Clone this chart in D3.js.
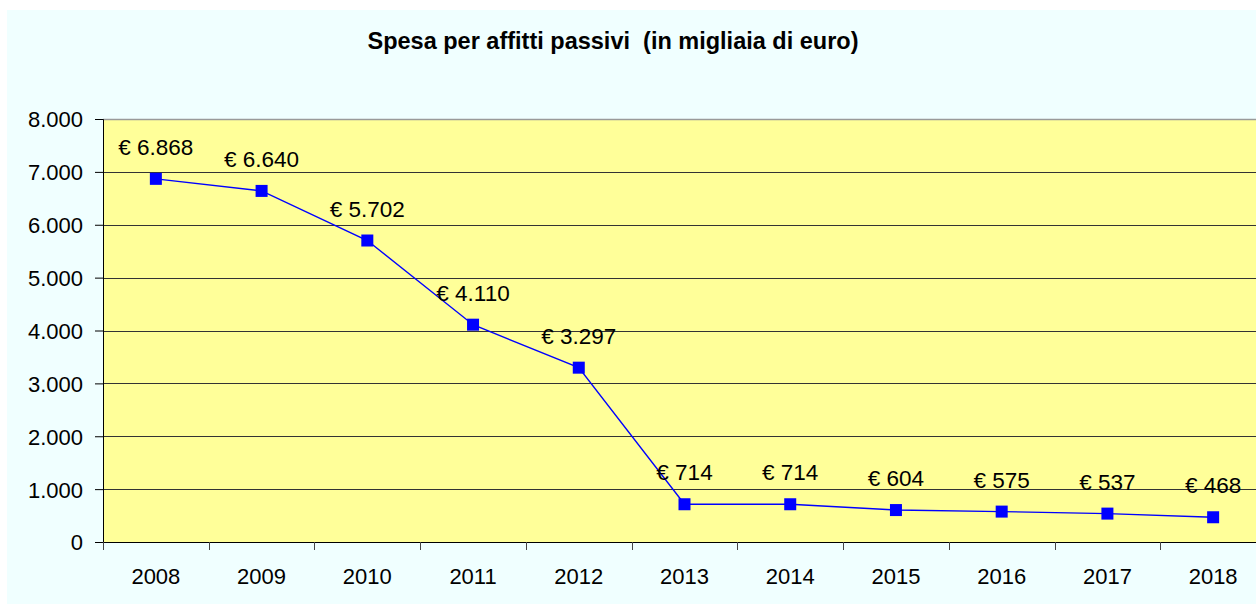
<!DOCTYPE html>
<html>
<head>
<meta charset="utf-8">
<title>Spesa per affitti passivi</title>
<script src="https://cdn.jsdelivr.net/npm/d3@7"></script>
<style>
  body { margin: 0; background: #fff; }
  svg { display: block; font-family: "Liberation Sans", Arial, sans-serif; }
  .tick text { font-size: 22px; fill: #000; }
  .lbl { font-size: 22.5px; fill: #000; }
  .titolo { font-size: 23.5px; font-weight: bold; white-space: pre; }
</style>
</head>
<body>
<svg id="chart" width="1256" height="604"></svg>
<script>
// dati
var anni = ["2008","2009","2010","2011","2012","2013","2014","2015","2016","2017","2018"];
var spesa = [6868, 6640, 5702, 4110, 3297, 714, 714, 604, 575, 537, 468];
var yTicks = [0, 1000, 2000, 3000, 4000, 5000, 6000, 7000, 8000];

var svg = d3.select("#chart");
var mLeft = 103, mTop = 119, plotW = 1163, plotH = 423;

// sfondo
svg.append("rect").attr("x", 7).attr("y", 10).attr("width", 1260).attr("height", 600)
  .attr("fill", "#f0ffff");

svg.append("text")
  .attr("class", "titolo")
  .attr("x", 613).attr("y", 49)
  .attr("text-anchor", "middle")
  .text("Spesa per affitti passivi  (in migliaia di euro)");

var x = d3.scaleBand().domain(anni).range([0, plotW]);
var y = d3.scaleLinear().domain([0, 8000]).range([plotH, 0]);

var g = svg.append("g").attr("transform", "translate(" + mLeft + "," + mTop + ")");

g.append("rect").attr("width", plotW).attr("height", plotH).attr("fill", "#ffff99");

// griglia
g.selectAll(".grid").data(yTicks.slice(1, -1)).enter().append("line")
  .attr("x1", 0).attr("x2", plotW)
  .attr("y1", function(d){ return Math.round(y(d)) + 0.5; })
  .attr("y2", function(d){ return Math.round(y(d)) + 0.5; })
  .attr("stroke", "#333").attr("stroke-width", 1);
g.append("line").attr("x1", 0).attr("x2", plotW).attr("y1", 0.5).attr("y2", 0.5)
  .attr("stroke", "#9a9a9a").attr("stroke-width", 1.5);

var fmt = function(d){ return d3.format(",")(d).replace(/,/g, "."); };

var yAxis = g.append("g")
  .call(d3.axisLeft(y).tickValues(yTicks).tickSize(8).tickPadding(12).tickFormat(fmt));
yAxis.select(".domain").attr("stroke", "#000");
yAxis.selectAll(".tick line").attr("stroke", "#000");
yAxis.selectAll(".tick text").attr("dy", "0.36em");

var xAxis = g.append("g").attr("transform", "translate(0," + plotH + ")")
  .call(d3.axisBottom(x).tickSize(0).tickPadding(26));
xAxis.select(".domain").attr("stroke", "#000");
xAxis.selectAll(".tick text").attr("dy", "0.72em");

// tacche ai bordi delle categorie
g.selectAll(".xt").data(anni).enter().append("line")
  .attr("x1", function(d){ return Math.round(x(d)) + 0.5; })
  .attr("x2", function(d){ return Math.round(x(d)) + 0.5; })
  .attr("y1", plotH).attr("y2", plotH + 8)
  .attr("stroke", "#444");

var cx = function(d, i){ return x(anni[i]) + x.bandwidth() / 2; };

var line = d3.line().x(cx).y(function(d){ return y(d); });
g.append("path").datum(spesa).attr("d", line)
  .attr("fill", "none").attr("stroke", "#0000ff").attr("stroke-width", 1.4);

g.selectAll(".pt").data(spesa).enter().append("rect")
  .attr("x", function(d, i){ return cx(d, i) - 6; })
  .attr("y", function(d){ return y(d) - 6; })
  .attr("width", 12).attr("height", 12)
  .attr("fill", "#0000ff");

g.selectAll(".lbl").data(spesa).enter().append("text")
  .attr("class", "lbl")
  .attr("x", cx)
  .attr("y", function(d){ return y(d) - 24; })
  .attr("text-anchor", "middle")
  .text(function(d){ return "€ " + fmt(d); });
</script>
</body>
</html>
